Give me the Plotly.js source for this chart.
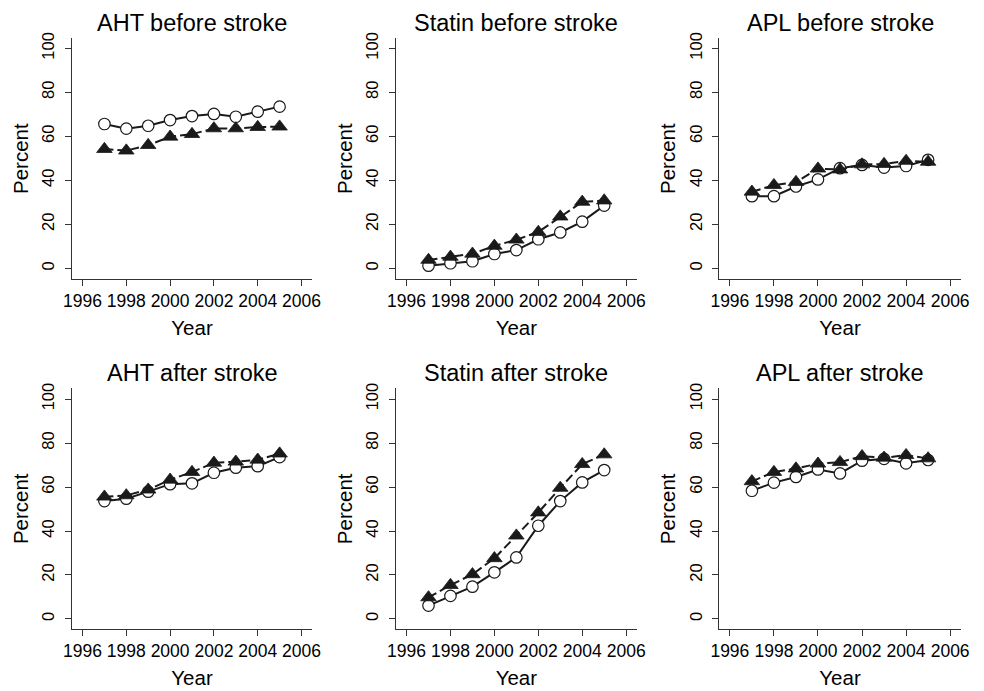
<!DOCTYPE html>
<html>
<head>
<meta charset="utf-8">
<script src="https://cdn.plot.ly/plotly-3.0.1.min.js"></script>
<style>html,body{margin:0;padding:0;background:#fff}#chart{width:984px;height:691px}</style>
</head>
<body>
<div id="chart"></div>
<script>
// Data (percent)
const years = [1997, 1998, 1999, 2000, 2001, 2002, 2003, 2004, 2005];
const panelTitles = ["AHT before stroke", "Statin before stroke", "APL before stroke",
                     "AHT after stroke", "Statin after stroke", "APL after stroke"];
// open circles, solid line
const ahtBeforeCircle    = [65.6, 63.5, 64.8, 67.4, 69.2, 70.2, 68.9, 71.2, 73.5];
const statinBeforeCircle = [1.2, 2.3, 3.2, 6.5, 8.3, 13.2, 16.3, 21.2, 28.5];
const aplBeforeCircle    = [32.8, 32.8, 37.2, 40.4, 45.5, 47.0, 45.8, 46.5, 49.3];
const ahtAfterCircle     = [53.6, 54.7, 57.9, 61.3, 61.7, 66.5, 68.8, 69.5, 73.6];
const statinAfterCircle  = [6.1, 10.5, 14.7, 21.2, 28.0, 42.4, 53.6, 62.1, 67.7];
const aplAfterCircle     = [58.3, 62.0, 64.6, 68.0, 66.2, 72.0, 72.8, 70.8, 72.3];
// filled triangles, dashed line
const ahtBeforeTri    = [54.2, 53.5, 56.0, 59.8, 61.0, 63.6, 63.6, 64.2, 64.4];
const statinBeforeTri = [3.8, 5.2, 6.6, 10.2, 13.0, 16.5, 23.5, 30.2, 30.8];
const aplBeforeTri    = [34.8, 37.8, 39.2, 45.3, 44.9, 47.2, 47.4, 48.8, 48.4];
const ahtAfterTri     = [55.6, 56.2, 58.8, 63.3, 66.8, 71.0, 71.5, 72.4, 75.2];
const statinAfterTri  = [9.8, 15.4, 20.3, 27.6, 37.9, 48.4, 59.6, 70.4, 74.8];
const aplAfterTri     = [62.6, 66.8, 68.4, 70.6, 71.3, 74.0, 73.3, 74.5, 73.0];
const yTicks = [0, 20, 40, 60, 80, 100];
const xTicks = [1996, 1998, 2000, 2002, 2004, 2006];

const circleSeries = [ahtBeforeCircle, statinBeforeCircle, aplBeforeCircle, ahtAfterCircle, statinAfterCircle, aplAfterCircle];
const triSeries = [ahtBeforeTri, statinBeforeTri, aplBeforeTri, ahtAfterTri, statinAfterTri, aplAfterTri];

const W = 984, H = 691;
const colPx = [[72, 312], [396, 636.7], [719.3, 960.7]];
const rowPx = [[38, 279.3], [388.3, 629.3]];
const titleMidPx = [22.5, 373];
const FONT = "Liberation Sans, Arial, Helvetica, sans-serif";

const traces = [];
const layout = {
  width: W, height: H,
  margin: {l: 0, r: 0, t: 0, b: 0},
  paper_bgcolor: "#fff", plot_bgcolor: "#fff",
  showlegend: false,
  font: {family: FONT, color: "#000"},
  annotations: []
};

for (let i = 0; i < 6; i++) {
  const r = Math.floor(i / 3), c = i % 3;
  const sfx = i === 0 ? "" : String(i + 1);
  const xa = "x" + sfx, ya = "y" + sfx;
  traces.push({
    x: years, y: circleSeries[i], xaxis: xa, yaxis: ya, type: "scatter", mode: "lines+markers",
    line: {color: "#1a1a1a", width: 2},
    marker: {symbol: "circle", size: 11.5, color: "#fff", line: {color: "#1a1a1a", width: 1.2}}
  });
  traces.push({
    x: years, y: triSeries[i], xaxis: xa, yaxis: ya, type: "scatter", mode: "lines+markers",
    line: {color: "#1a1a1a", width: 2, dash: "9px,4px"},
    marker: {symbol: "triangle-up", size: 13.5, color: "#1a1a1a", line: {color: "#1a1a1a", width: 0.8}}
  });
  const xd = [colPx[c][0] / W, colPx[c][1] / W];
  const yd = [1 - rowPx[r][1] / H, 1 - rowPx[r][0] / H];
  layout["xaxis" + sfx] = {
    domain: xd, anchor: ya, range: [1995.52, 2006.48],
    tickvals: xTicks, ticktext: xTicks.map(String),
    ticks: "outside", ticklen: 6, tickwidth: 1, tickcolor: "#333",
    showline: true, linecolor: "#333", linewidth: 1,
    showgrid: false, zeroline: false,
    tickfont: {size: 17.5, family: FONT, color: "#000"},
    title: {text: "Year", font: {size: 20.5, family: FONT, color: "#000"}, standoff: 10}
  };
  layout["yaxis" + sfx] = {
    domain: yd, anchor: xa, range: r === 0 ? [-5, 104.7] : [-4.7, 104.9],
    tickvals: yTicks, ticktext: yTicks.map(String), tickangle: -90,
    ticks: "outside", ticklen: 6, tickwidth: 1, tickcolor: "#333",
    ticklabelstandoff: 4,
    showline: true, linecolor: "#333", linewidth: 1,
    showgrid: false, zeroline: false,
    tickfont: {size: 16.5, family: FONT, color: "#000"},
    title: {text: "Percent", font: {size: 20.5, family: FONT, color: "#000"}, standoff: 5}
  };
  layout.annotations.push({
    text: panelTitles[i], xref: "paper", yref: "paper",
    x: (xd[0] + xd[1]) / 2, y: 1 - titleMidPx[r] / H,
    xanchor: "center", yanchor: "middle", showarrow: false,
    font: {size: 23.5, family: FONT, color: "#000"}
  });
}

Plotly.newPlot("chart", traces, layout, {displayModeBar: false, staticPlot: true});
</script>
</body>
</html>
